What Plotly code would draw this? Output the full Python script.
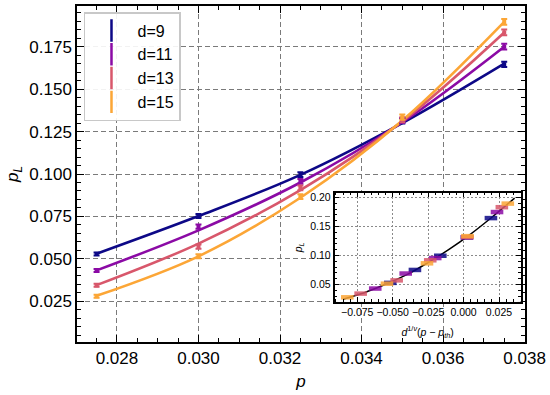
import plotly.graph_objects as go

# ---------------- data ----------------
p_vals = [0.0275, 0.0300, 0.0325, 0.0350, 0.0375]
distances = ["d=9", "d=11", "d=13", "d=15"]
colors = ["#0d0887", "#8b0aa5", "#d8576b", "#fca636"]

pL_d9 = [0.0529, 0.0752, 0.0997, 0.1313, 0.1646]
pL_d11 = [0.0431, 0.0690, 0.0957, 0.1315, 0.1750]
pL_d13 = [0.0344, 0.0572, 0.0918, 0.1320, 0.1834]
pL_d15 = [0.0280, 0.0515, 0.0866, 0.1335, 0.1896]

err_d9 = [0.0009, 0.0012, 0.0014, 0.0015, 0.0016]
err_d11 = [0.0009, 0.0013, 0.0014, 0.0015, 0.0017]
err_d13 = [0.0009, 0.0013, 0.0014, 0.0015, 0.0017]
err_d15 = [0.0009, 0.0012, 0.0014, 0.0015, 0.0017]

fit_d9 = [0.0530, 0.0752, 0.0995, 0.1300, 0.1650]
fit_d11 = [0.0432, 0.0668, 0.0950, 0.1305, 0.1750]
fit_d13 = [0.0345, 0.0590, 0.0905, 0.1310, 0.1834]
fit_d15 = [0.0282, 0.0515, 0.0860, 0.1315, 0.1896]

# rescaled abscissa d^{1/nu}(p - p_th) for the inset
xs_d9 = [-0.0517, -0.0343, -0.0164, 0.0024, 0.0193]
xs_d11 = [-0.0623, -0.0408, -0.0200, 0.0024, 0.0236]
xs_d13 = [-0.0726, -0.0472, -0.0235, 0.0026, 0.0270]
xs_d15 = [-0.0820, -0.0540, -0.0258, 0.0028, 0.0312]

collapse_x = [-0.085, -0.070, -0.055, -0.040, -0.025, -0.010, 0.005, 0.020, 0.036]
collapse_y = [0.0248, 0.0360, 0.0505, 0.0670, 0.0880, 0.1110, 0.1370, 0.1660, 0.1990]

x_ticks = [0.028, 0.030, 0.032, 0.034, 0.036, 0.038]
y_ticks = [0.025, 0.050, 0.075, 0.100, 0.125, 0.150, 0.175]
inset_x_ticks = [-0.075, -0.050, -0.025, 0.000, 0.025]
inset_y_ticks = [0.05, 0.10, 0.15, 0.20]

pL_all = [pL_d9, pL_d11, pL_d13, pL_d15]
err_all = [err_d9, err_d11, err_d13, err_d15]
fit_all = [fit_d9, fit_d11, fit_d13, fit_d15]
xs_all = [xs_d9, xs_d11, xs_d13, xs_d15]

FONT = "Liberation Sans, Arial, Helvetica, sans-serif"

fig = go.Figure()

# main fitted curves
for name, col, fit in zip(distances, colors, fit_all):
    fig.add_trace(go.Scatter(x=p_vals, y=fit, mode="lines",
                             line=dict(color=col, width=2.6, shape="spline"),
                             showlegend=False, hoverinfo="skip"))

# main data points with error bars
for name, col, y, e in zip(distances, colors, pL_all, err_all):
    fig.add_trace(go.Scatter(x=p_vals, y=y, mode="markers",
                             marker=dict(color=col, size=4, symbol="square"),
                             error_y=dict(type="data", array=e, visible=True,
                                          color=col, thickness=2, width=3),
                             showlegend=False))

# legend entries
for i, (name, col) in enumerate(zip(distances, colors)):
    fig.add_trace(go.Scatter(x=[None], y=[None], mode="markers", name=name,
                             marker=dict(color=col, size=16, symbol="line-ns-open",
                                         line=dict(color=col, width=2.5))))

# inset collapse curve
fig.add_trace(go.Scatter(x=collapse_x, y=collapse_y, mode="lines",
                         line=dict(color="black", width=1.5, shape="spline"),
                         xaxis="x2", yaxis="y2", showlegend=False, hoverinfo="skip"))

# inset points
for name, col, xs, y in zip(distances, colors, xs_all, pL_all):
    fig.add_trace(go.Scatter(x=xs, y=y, mode="markers",
                             marker=dict(symbol="line-ew", size=9, color=col,
                                         opacity=0.85,
                                         line=dict(color=col, width=4.5)),
                             xaxis="x2", yaxis="y2", showlegend=False))

grid_main = dict(showgrid=True, gridcolor="#7a7a7a", gridwidth=1, griddash="5px,3px")
grid_inset = dict(showgrid=True, gridcolor="#8a8a8a", gridwidth=0.8, griddash="2px,2px")

fig.update_layout(
    width=550, height=395,
    margin=dict(l=77, r=23, t=4, b=53),
    paper_bgcolor="white", plot_bgcolor="white",
    font=dict(family=FONT, color="black", size=16),
    xaxis=dict(range=[0.02702, 0.03801], tickvals=x_ticks, tickformat=".3f",
               ticks="inside", ticklen=7, tickwidth=1.2, tickcolor="black",
               showline=True, linecolor="black", linewidth=1.5, mirror="allticks",
               minor=dict(ticks="inside", ticklen=4, dtick=0.0005, tickcolor="black",
                          tickwidth=1, showgrid=False),
               tickfont=dict(size=17), zeroline=False,
               title=dict(text="<i>p</i>", font=dict(size=17), standoff=8),
               **grid_main),
    yaxis=dict(range=[0.001, 0.199], tickvals=y_ticks, tickformat=".3f",
               ticks="inside", ticklen=7, tickwidth=1.2, tickcolor="black",
               showline=True, linecolor="black", linewidth=1.5, mirror="allticks",
               minor=dict(ticks="inside", ticklen=4, dtick=0.005, tickcolor="black",
                          tickwidth=1, showgrid=False),
               tickfont=dict(size=17), zeroline=False,
               title=dict(text="<i>p<sub>L</sub></i>", font=dict(size=17), standoff=6),
               **grid_main),
    xaxis2=dict(domain=[0.5749, 0.9904], anchor="y2", range=[-0.091, 0.0403],
                tickvals=inset_x_ticks, tickformat=".3f",
                ticks="inside", ticklen=5, tickwidth=1, tickcolor="black",
                showline=True, linecolor="black", linewidth=1.5, mirror="allticks",
                minor=dict(ticks="inside", ticklen=3, dtick=0.005, tickcolor="black",
                           tickwidth=0.8, showgrid=False),
                tickfont=dict(size=10.5), zeroline=False,
                title=dict(text="<i>d</i><sup>1/<i>ν</i></sup>(<i>p</i> − <i>p</i><sub><i>th</i></sub>)",
                           font=dict(size=10.5), standoff=11),
                **grid_inset),
    yaxis2=dict(domain=[0.1192, 0.4447], anchor="x2", range=[0.020, 0.2086],
                tickvals=inset_y_ticks, tickformat=".2f",
                ticks="inside", ticklen=5, tickwidth=1, tickcolor="black",
                showline=True, linecolor="black", linewidth=1.5, mirror="allticks",
                minor=dict(ticks="inside", ticklen=3, dtick=0.01, tickcolor="black",
                           tickwidth=0.8, showgrid=False),
                tickfont=dict(size=10.5), zeroline=False,
                title=dict(text="<i>p<sub>L</sub></i>", font=dict(size=10.5), standoff=6),
                **grid_inset),
    legend=dict(x=0.0156, y=0.982, xanchor="left", yanchor="top",
                bgcolor="rgba(255,255,255,0.9)", bordercolor="#c8c8c8", borderwidth=1.5,
                font=dict(size=16), itemwidth=42, tracegroupgap=0),
    showlegend=True,
)

fig.write_html("out.html", config={"displayModeBar": False},
               post_script="document.body.style.margin='0px';")
